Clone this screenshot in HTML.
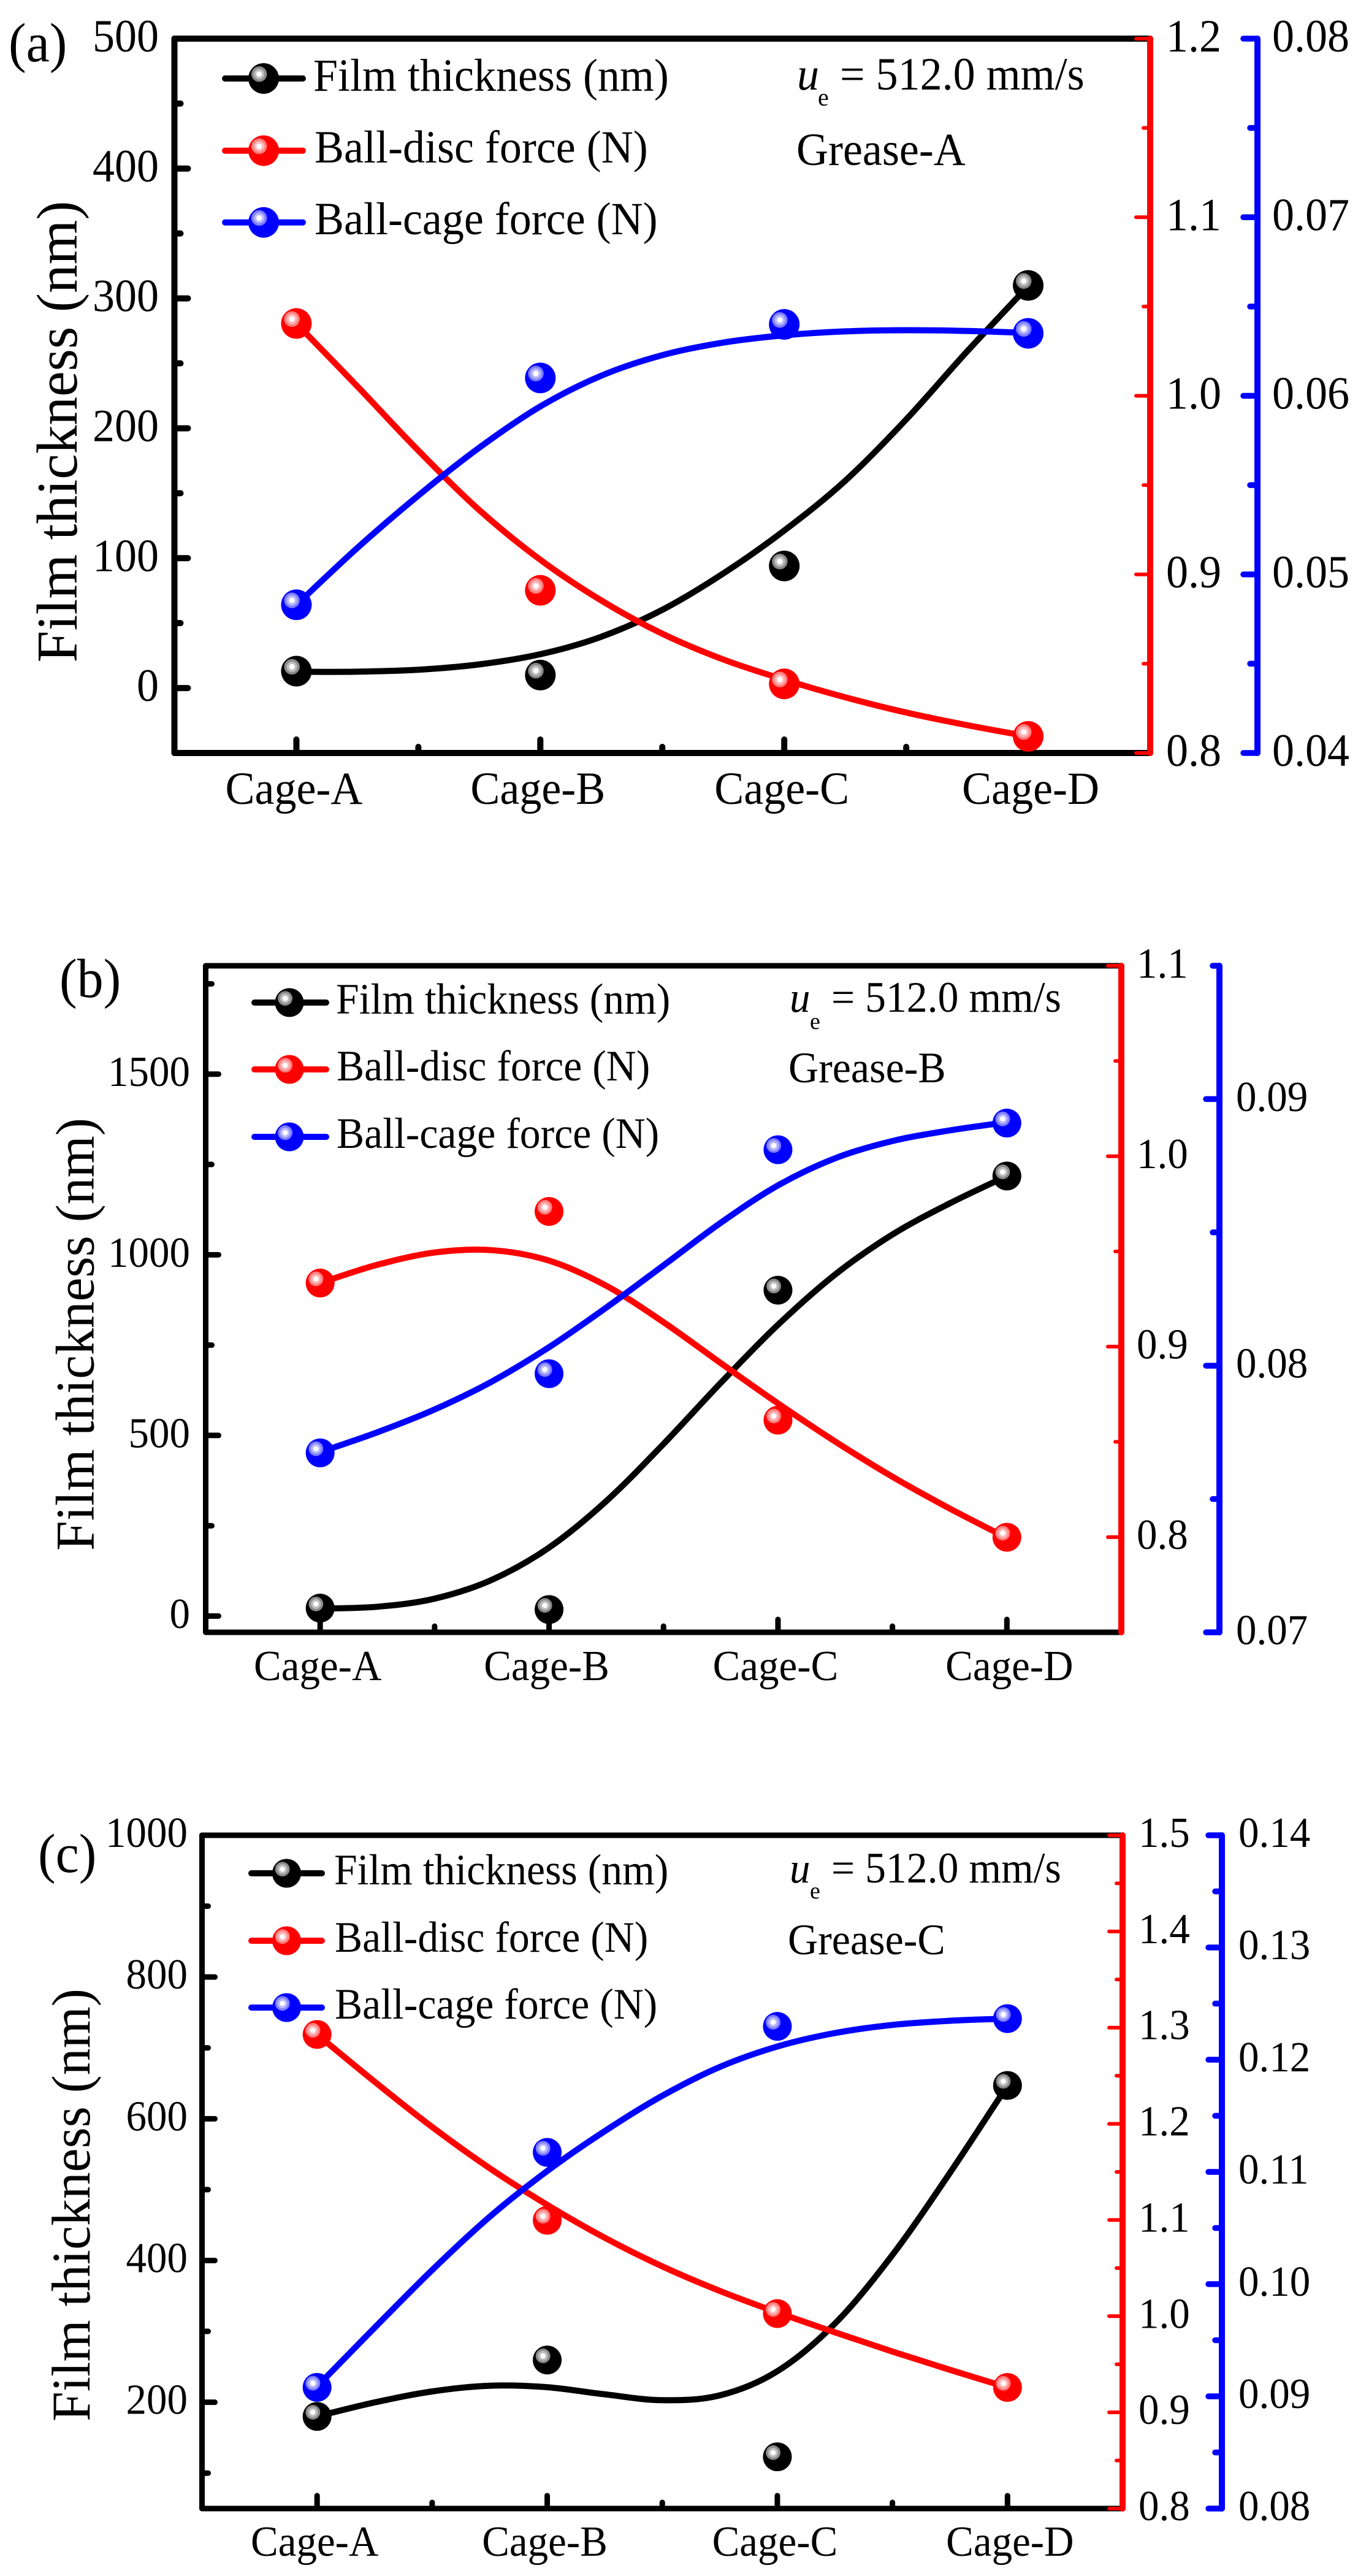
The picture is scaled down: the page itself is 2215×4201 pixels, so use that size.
<!DOCTYPE html>
<html lang="en">
<head>
<meta charset="utf-8">
<title>Film thickness and forces by cage type</title>
<style>
html,body{margin:0;padding:0;background:#fff;}
svg{display:block;}
text{font-family:"Liberation Serif","DejaVu Serif",serif;fill:#000;}
</style>
</head>
<body>
<svg id="figure" xmlns="http://www.w3.org/2000/svg" width="2215" height="4201" viewBox="0 0 2215 4201">
<rect width="2215" height="4201" fill="#fff"/>

<g id="panel-a">
  <text font-size="86" transform="translate(14,100) scale(1,1.05)">(a)</text>
  <text font-size="94" text-anchor="middle" textLength="753" lengthAdjust="spacingAndGlyphs" transform="translate(125,704) rotate(-90)">Film thickness (nm)</text>
  <text font-size="72" transform="translate(511,148) scale(1,1.05)">Film thickness (nm)</text>
  <text font-size="72" transform="translate(513,265) scale(1,1.05)">Ball-disc force (N)</text>
  <text font-size="72" transform="translate(513,382) scale(1,1.05)">Ball-cage force (N)</text>
  <text font-size="72" font-style="italic" transform="translate(1300,146) scale(1,1.05)">u</text>
  <text font-size="40" transform="translate(1334,172)">e</text>
  <text font-size="72" transform="translate(1370,146) scale(1,1.05)">= 512.0 mm/s</text>
  <text font-size="72" transform="translate(1299,269) scale(1,1.05)">Grease-A</text>
</g>

<g id="panel-b">
  <text font-size="86" transform="translate(97,1626) scale(1,1.05)">(b)</text>
  <text font-size="89" text-anchor="middle" textLength="706" lengthAdjust="spacingAndGlyphs" transform="translate(152.5,2176) rotate(-90)">Film thickness (nm)</text>
  <text font-size="67.7" transform="translate(548,1653) scale(1,1.05)">Film thickness (nm)</text>
  <text font-size="67.7" transform="translate(549,1762) scale(1,1.05)">Ball-disc force (N)</text>
  <text font-size="67.7" transform="translate(549,1872) scale(1,1.05)">Ball-cage force (N)</text>
  <text font-size="67" font-style="italic" transform="translate(1288,1650) scale(1,1.05)">u</text>
  <text font-size="38" transform="translate(1321,1678)">e</text>
  <text font-size="67.7" transform="translate(1356,1650) scale(1,1.05)">= 512.0 mm/s</text>
  <text font-size="68" transform="translate(1286,1765) scale(1,1.05)">Grease-B</text>
</g>

<g id="panel-c">
  <text font-size="86" transform="translate(62,3053) scale(1,1.05)">(c)</text>
  <text font-size="89" text-anchor="middle" textLength="706" lengthAdjust="spacingAndGlyphs" transform="translate(146,3596) rotate(-90)">Film thickness (nm)</text>
  <text font-size="67.7" transform="translate(545,3073) scale(1,1.05)">Film thickness (nm)</text>
  <text font-size="67.7" transform="translate(546,3183) scale(1,1.05)">Ball-disc force (N)</text>
  <text font-size="67.7" transform="translate(546,3292) scale(1,1.05)">Ball-cage force (N)</text>
  <text font-size="67" font-style="italic" transform="translate(1288,3070) scale(1,1.05)">u</text>
  <text font-size="38" transform="translate(1321,3096)">e</text>
  <text font-size="67.7" transform="translate(1356,3070) scale(1,1.05)">= 512.0 mm/s</text>
  <text font-size="68" transform="translate(1285,3187) scale(1,1.05)">Grease-C</text>
</g>
</svg>

<script>
const categories = ['Cage-A', 'Cage-B', 'Cage-C', 'Cage-D'];
const categoryPositions = [1, 2, 3, 4];
const xMinorPositions = [1.5, 2.5, 3.5];
const fitPositions = [1, 1.25, 1.5, 1.75, 2, 2.25, 2.5, 2.75, 3, 3.25, 3.5, 3.75, 4];

/* Panel (a) */
const aFilmPoints = [13, 10, 94, 310];
const aDiscPoints = [1.0405, 0.8911, 0.8387, 0.8093];
const aCagePoints = [0.0483, 0.0610, 0.0640, 0.0635];
const aFilmFit = [12.5, 12.3, 13.3, 17.6, 24.4, 37.8, 58, 87.1, 120.7, 156.6, 204.6, 261.5, 309.5];
const aDiscFit = [1.0405, 1.0061, 0.9684, 0.9344, 0.9068, 0.8847, 0.8654, 0.8516, 0.8409, 0.8308, 0.8222, 0.8154, 0.8093];
const aCageFit = [0.04829, 0.0516, 0.05445, 0.05717, 0.0596, 0.06125, 0.06241, 0.06304, 0.06343, 0.06365, 0.0637, 0.06365, 0.06352];
const aLeftTicks = [0, 100, 200, 300, 400, 500];
const aLeftLabels = ['0', '100', '200', '300', '400', '500'];
const aLeftMinor = [50, 150, 250, 350, 450];
const aRedTicks = [0.8, 0.9, 1.0, 1.1, 1.2];
const aRedLabels = ['0.8', '0.9', '1.0', '1.1', '1.2'];
const aRedMinor = [0.85, 0.95, 1.05, 1.15];
const aBlueTicks = [0.04, 0.05, 0.06, 0.07, 0.08];
const aBlueLabels = ['0.04', '0.05', '0.06', '0.07', '0.08'];
const aBlueMinor = [0.045, 0.055, 0.065, 0.075];

/* Panel (b) */
const bFilmPoints = [22, 18, 902, 1218];
const bDiscPoints = [0.9334, 0.971, 0.8614, 0.7999];
const bCagePoints = [0.07673, 0.0797, 0.0881, 0.0891];
const bFilmFit = [20.6, 21.5, 39.6, 92, 177.7, 311, 473, 649, 811, 954, 1063, 1144, 1218];
const bDiscFit = [0.9334, 0.9439, 0.9508, 0.9522, 0.9475, 0.9334, 0.9135, 0.8909, 0.8701, 0.8497, 0.8312, 0.8146, 0.7996];
const bCageFit = [0.07676, 0.07747, 0.07831, 0.07934, 0.08063, 0.08218, 0.08373, 0.08541, 0.08689, 0.08786, 0.08851, 0.08883, 0.08913];
const bLeftTicks = [0, 500, 1000, 1500];
const bLeftLabels = ['0', '500', '1000', '1500'];
const bLeftMinor = [250, 750, 1250, 1750];
const bRedTicks = [0.8, 0.9, 1.0, 1.1];
const bRedLabels = ['0.8', '0.9', '1.0', '1.1'];
const bRedMinor = [0.85, 0.95, 1.05];
const bBlueTicks = [0.07, 0.08, 0.09];
const bBlueLabels = ['0.07', '0.08', '0.09'];
const bBlueMinor = [0.075, 0.085, 0.095];

/* Panel (c) */
const cFilmPoints = [180, 259.6, 123, 647];
const cDiscPoints = [1.2929, 1.0997, 1.0027, 0.9259];
const cCagePoints = [0.0908, 0.11174, 0.12297, 0.12366];
const cFilmFit = [180, 201, 216.9, 226.3, 223.8, 210.9, 199, 202.5, 234.7, 303.3, 402.6, 522.8, 647];
const cDiscFit = [1.2929, 1.2435, 1.1952, 1.1527, 1.1147, 1.0806, 1.0503, 1.0258, 1.0031, 0.9837, 0.9625, 0.9442, 0.9259];
const cCageFit = [0.09088, 0.09612, 0.10133, 0.10625, 0.11018, 0.11372, 0.11692, 0.11959, 0.12131, 0.1225, 0.12319, 0.12351, 0.12366];
const cLeftTicks = [200, 400, 600, 800, 1000];
const cLeftLabels = ['200', '400', '600', '800', '1000'];
const cLeftMinor = [100, 300, 500, 700, 900];
const cRedTicks = [0.8, 0.9, 1.0, 1.1, 1.2, 1.3, 1.4, 1.5];
const cRedLabels = ['0.8', '0.9', '1.0', '1.1', '1.2', '1.3', '1.4', '1.5'];
const cRedMinor = [0.85, 0.95, 1.05, 1.15, 1.25, 1.35, 1.45];
const cBlueTicks = [0.08, 0.09, 0.10, 0.11, 0.12, 0.13, 0.14];
const cBlueLabels = ['0.08', '0.09', '0.10', '0.11', '0.12', '0.13', '0.14'];
const cBlueMinor = [0.085, 0.095, 0.105, 0.115, 0.125, 0.135];

const NS = 'http://www.w3.org/2000/svg';

function make(parent, tag, attrs, name) {
  const el = document.createElementNS(NS, tag);
  for (const k in attrs) el.setAttribute(k, attrs[k]);
  
  
  parent.appendChild(el);
  return el;
}

function line(parent, x1, y1, x2, y2, color, width, name) {
  return make(parent, 'line', {x1: x1, y1: y1, x2: x2, y2: y2, stroke: color, 'stroke-width': width, 'stroke-linecap': 'round'}, name);
}

function label(parent, x, y, str, size, anchor, name) {
  const t = make(parent, 'text', {'font-size': size, 'text-anchor': anchor, transform: 'translate(' + x + ',' + y + ') scale(1,1.05)'}, name);
  t.textContent = str;
  return t;
}

/* Light smoothing of hand-read curve samples so reading noise does not show as wobble. */
function smoothSamples(pts) {
  return pts.map((p, i) => {
    if (i === 0 || i === pts.length - 1) return p;
    return [p[0], (pts[i - 1][1] + 2 * p[1] + pts[i + 1][1]) / 4];
  });
}

function smoothPath(pts) {
  let d = 'M' + pts[0][0].toFixed(1) + ' ' + pts[0][1].toFixed(1);
  for (let i = 0; i < pts.length - 1; i++) {
    const p0 = pts[Math.max(i - 1, 0)], p1 = pts[i], p2 = pts[i + 1], p3 = pts[Math.min(i + 2, pts.length - 1)];
    const c1x = p1[0] + (p2[0] - p0[0]) / 6, c1y = p1[1] + (p2[1] - p0[1]) / 6;
    const c2x = p2[0] - (p3[0] - p1[0]) / 6, c2y = p2[1] - (p3[1] - p1[1]) / 6;
    d += 'C' + c1x.toFixed(1) + ' ' + c1y.toFixed(1) + ' ' + c2x.toFixed(1) + ' ' + c2y.toFixed(1) + ' ' + p2[0].toFixed(1) + ' ' + p2[1].toFixed(1);
  }
  return d;
}

const sphereShades = {
  '#000000': ['#8a8a8a', '#bcbcbc'],
  '#ff0000': ['#ff7f7f', '#ffb6b6'],
  '#0000ff': ['#7f7fff', '#b6b6ff']
};

function sphere(parent, cx, cy, r, color, name) {
  const g = make(parent, 'g', {}, name);
  const k = r / 25;
  const hx = cx - 7.3 * k, hy = cy - 7.2 * k;
  make(g, 'circle', {cx: cx, cy: cy, r: r, fill: color}, name + '-body');
  make(g, 'circle', {cx: hx, cy: hy, r: 12.7 * k, fill: sphereShades[color][0]}, name + '-glow');
  make(g, 'circle', {cx: hx, cy: hy, r: 8.7 * k, fill: sphereShades[color][1]}, name + '-shine');
  make(g, 'circle', {cx: hx, cy: hy, r: 4.7 * k, fill: '#ffffff'}, name + '-highlight');
  return g;
}

function drawPanel(cfg) {
  const root = document.getElementById('panel-' + cfg.id);
  const g = make(root, 'g', {}, 'panel-' + cfg.id + '-plot');
  const p = 'panel-' + cfg.id + '-';
  const xScale = v => cfg.left + (v - 0.5) / 4 * (cfg.right - cfg.left);
  const scale = dom => v => cfg.bottom - (v - dom[0]) / (dom[1] - dom[0]) * (cfg.bottom - cfg.top);
  const yFilm = scale(cfg.filmDomain), yDisc = scale(cfg.discDomain), yCage = scale(cfg.cageDomain);
  const w = cfg.axisWidth;

  /* frame */
  line(g, cfg.left, cfg.top, cfg.left, cfg.bottom, '#000000', w, p + 'left-axis');
  line(g, cfg.left, cfg.top, cfg.right, cfg.top, '#000000', w, p + 'top-axis');
  line(g, cfg.left, cfg.bottom, cfg.right, cfg.bottom, '#000000', w, p + 'x-axis');
  line(g, cfg.right, cfg.top, cfg.right, cfg.bottom, '#ff0000', 10, p + 'disc-axis');
  line(g, cfg.blue, cfg.top, cfg.blue, cfg.bottom, '#0000ff', 10, p + 'cage-axis');

  /* x ticks */
  categoryPositions.forEach((v, i) => {
    const x = xScale(v);
    line(g, x, cfg.bottom, x, cfg.bottom - cfg.majorLen + 5, '#000000', w, p + 'x-tick');
    const nudge = i === 3 ? 4 : -cfg.xLabelShift;
    label(g, x + nudge, cfg.xLabelY, categories[i], cfg.fontSize, 'middle', p + 'x-tick-label');
  });
  xMinorPositions.forEach(v => {
    const x = xScale(v);
    line(g, x, cfg.bottom, x, cfg.bottom - cfg.minorLen + 5, '#000000', w, p + 'x-minor-tick');
  });

  /* left ticks */
  cfg.leftTicks.forEach((v, i) => {
    const y = yFilm(v);
    line(g, cfg.left, y, cfg.left + cfg.majorLen - 5, y, '#000000', w, p + 'film-tick');
    label(g, cfg.leftLabelX, y + cfg.labelDrop, cfg.leftLabels[i], cfg.fontSize, 'end', p + 'film-tick-label');
  });
  cfg.leftMinor.forEach(v => {
    const y = yFilm(v);
    line(g, cfg.left, y, cfg.left + cfg.minorLen - 5, y, '#000000', w, p + 'film-minor-tick');
  });

  /* red ticks */
  cfg.redTicks.forEach((v, i) => {
    const y = yDisc(v);
    line(g, cfg.right, y, cfg.right - cfg.redMajorLen + 3, y, '#ff0000', 6, p + 'disc-tick');
    label(g, cfg.redLabelX, y + cfg.labelDrop, cfg.redLabels[i], cfg.fontSize, 'start', p + 'disc-tick-label');
  });
  cfg.redMinor.forEach(v => {
    const y = yDisc(v);
    line(g, cfg.right, y, cfg.right - cfg.redMinorLen + 3, y, '#ff0000', 6, p + 'disc-minor-tick');
  });

  /* blue ticks */
  cfg.blueTicks.forEach((v, i) => {
    const y = yCage(v);
    line(g, cfg.blue, y, cfg.blue - cfg.blueMajorLen + 5, y, '#0000ff', 9.5, p + 'cage-tick');
    label(g, cfg.blueLabelX, y + cfg.labelDrop, cfg.blueLabels[i], cfg.fontSize, 'start', p + 'cage-tick-label');
  });
  cfg.blueMinor.forEach(v => {
    const y = yCage(v);
    line(g, cfg.blue, y, cfg.blue - cfg.blueMinorLen + 5, y, '#0000ff', 9.5, p + 'cage-minor-tick');
  });

  /* series */
  [
    {key: 'film', color: '#000000', fit: cfg.filmFit, points: cfg.filmPoints, y: yFilm},
    {key: 'disc', color: '#ff0000', fit: cfg.discFit, points: cfg.discPoints, y: yDisc},
    {key: 'cage', color: '#0000ff', fit: cfg.cageFit, points: cfg.cagePoints, y: yCage}
  ].forEach((s, idx) => {
    const pts = smoothSamples(fitPositions.map((v, i) => [xScale(v), s.y(s.fit[i])]));
    make(g, 'path', {d: smoothPath(pts), fill: 'none', stroke: s.color, 'stroke-width': 10, 'stroke-linecap': 'round'}, p + s.key + '-fit-curve');
    categoryPositions.forEach((v, i) => {
      sphere(g, xScale(v), s.y(s.points[i]), cfg.radius, s.color, p + s.key + '-point');
    });
    const ly = cfg.legendY[idx];
    line(g, cfg.legendX1, ly, cfg.legendX2, ly, s.color, 10, p + s.key + '-legend-line');
    sphere(g, cfg.legendMarkerX, ly, cfg.radius, s.color, p + s.key + '-legend-marker');
  });
}

drawPanel({
  id: 'a', left: 284.5, right: 1876, top: 63, bottom: 1228, blue: 2051, axisWidth: 10,
  filmDomain: [-50, 500], discDomain: [0.8, 1.2], cageDomain: [0.04, 0.08],
  filmPoints: aFilmPoints, discPoints: aDiscPoints, cagePoints: aCagePoints,
  filmFit: aFilmFit, discFit: aDiscFit, cageFit: aCageFit,
  leftTicks: aLeftTicks, leftLabels: aLeftLabels, leftMinor: aLeftMinor,
  redTicks: aRedTicks, redLabels: aRedLabels, redMinor: aRedMinor,
  blueTicks: aBlueTicks, blueLabels: aBlueLabels, blueMinor: aBlueMinor,
  fontSize: 72, labelDrop: 21, leftLabelX: 259, redLabelX: 1902, blueLabelX: 2075,
  xLabelY: 1311, xLabelShift: 4, majorLen: 27, minorLen: 15,
  redMajorLen: 26, redMinorLen: 14, blueMajorLen: 28, blueMinorLen: 17, radius: 25,
  legendX1: 367, legendX2: 494, legendMarkerX: 430, legendY: [128, 245.7, 362.7]
});

drawPanel({
  id: 'b', left: 335.5, right: 1829, top: 1575, bottom: 2662, blue: 1989, axisWidth: 9,
  filmDomain: [-45, 1800], discDomain: [0.75, 1.1], cageDomain: [0.07, 0.095],
  filmPoints: bFilmPoints, discPoints: bDiscPoints, cagePoints: bCagePoints,
  filmFit: bFilmFit, discFit: bDiscFit, cageFit: bCageFit,
  leftTicks: bLeftTicks, leftLabels: bLeftLabels, leftMinor: bLeftMinor,
  redTicks: bRedTicks, redLabels: bRedLabels, redMinor: bRedMinor,
  blueTicks: bBlueTicks, blueLabels: bBlueLabels, blueMinor: bBlueMinor,
  fontSize: 67, labelDrop: 19.5, leftLabelX: 310, redLabelX: 1854, blueLabelX: 2016,
  xLabelY: 2740, xLabelShift: 4, majorLen: 26, minorLen: 15,
  redMajorLen: 25, redMinorLen: 13, blueMajorLen: 27, blueMinorLen: 16, radius: 23.5,
  legendX1: 415, legendX2: 532, legendMarkerX: 472, legendY: [1635, 1744, 1854]
});

drawPanel({
  id: 'c', left: 329.5, right: 1831, top: 2993, bottom: 4091, blue: 1993, axisWidth: 9,
  filmDomain: [50, 1000], discDomain: [0.8, 1.5], cageDomain: [0.08, 0.14],
  filmPoints: cFilmPoints, discPoints: cDiscPoints, cagePoints: cCagePoints,
  filmFit: cFilmFit, discFit: cDiscFit, cageFit: cCageFit,
  leftTicks: cLeftTicks, leftLabels: cLeftLabels, leftMinor: cLeftMinor,
  redTicks: cRedTicks, redLabels: cRedLabels, redMinor: cRedMinor,
  blueTicks: cBlueTicks, blueLabels: cBlueLabels, blueMinor: cBlueMinor,
  fontSize: 67, labelDrop: 19, leftLabelX: 306, redLabelX: 1857, blueLabelX: 2020,
  xLabelY: 4168, xLabelShift: 4, majorLen: 26, minorLen: 15,
  redMajorLen: 25, redMinorLen: 13, blueMajorLen: 27, blueMinorLen: 16, radius: 23.5,
  legendX1: 410, legendX2: 525, legendMarkerX: 467.5, legendY: [3055, 3165, 3274]
});
</script>
</body>
</html>
